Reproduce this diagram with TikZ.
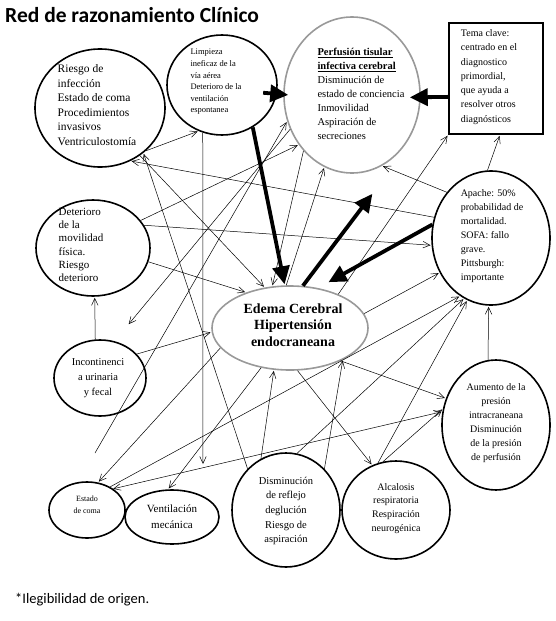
\documentclass[tikz,border=0pt]{standalone}
\usepackage{fontspec}
\setmainfont{Liberation Serif}
\newfontfamily\titlefont{Carlito}
\usetikzlibrary{arrows,arrows.meta,shapes.geometric,positioning}

\tikzset{
  bubble/.style={ellipse,draw,line width=1.6pt,inner sep=0pt},
  graybubble/.style={ellipse,draw=black!40,line width=1.6pt,inner sep=0pt},
  txt/.style={inner sep=0pt,align=left},
  ctxt/.style={inner sep=0pt,align=center},
  bigarrow/.style={-{Triangle[length=18pt,width=17pt]},line width=3.8pt}
}

\begin{document}
\begin{tikzpicture}[x=1pt,y=-1pt,shorten >=1pt,>={Straight Barb[length=7pt,width=6.5pt]},line width=0.5pt]
                    \useasboundingbox (0,0) rectangle (556,621);

                    \node[anchor=base west,inner sep=0pt,font=\titlefont\fontsize{21.5}{24}\selectfont\bfseries] (titulo) at (5,23) {Red de razonamiento Clínico};
                    \node[anchor=base west,inner sep=0pt,font=\titlefont\fontsize{14.5}{16}\selectfont] (nota) at (15,603) {*Ilegibilidad de origen.};

                    % bubbles
                    \node[bubble] (riesgo) [minimum width=130pt,minimum height=118pt] at (100,108) {};
                    \node[bubble] (limpieza) [minimum width=110pt,minimum height=100pt] at (222,85) {};
                    \node[graybubble] (perfusion) [minimum width=136pt,minimum height=156pt] at (352,95) {};
                    \node[draw,line width=1.8pt,inner sep=0pt] (tema) [minimum width=94pt,minimum height=111pt] at (496,78.5) {};
                    \node[bubble] (apache) [minimum width=118pt,minimum height=134pt] at (491,238) {};
                    \node[graybubble] (edema) [minimum width=156pt,minimum height=84pt] at (290,328) {};
                    \node[bubble] (deterioro) [minimum width=114pt,minimum height=96pt] at (93,248) {};
                    \node[bubble] (incont) [minimum width=92pt,minimum height=76pt] at (100,378) {};
                    \node[bubble] (coma) [minimum width=76pt,minimum height=56pt] at (87,510) {};
                    \node[bubble] (venti) [minimum width=94pt,minimum height=54pt] at (172,517) {};
                    \node[bubble] (dismi) [minimum width=108pt,minimum height=114pt] at (286,510) {};
                    \node[bubble] (alcal) [minimum width=108pt,minimum height=98pt] at (396,510) {};
                    \node[bubble] (aumento) [minimum width=108pt,minimum height=130pt] at (496,425) {};

                    % texts
                    \node[txt,font=\fontsize{11.5}{14.6}\selectfont] (riesgoT) at (97,105) {Riesgo de\\infección\\Estado de coma\\Procedimientos\\invasivos\\Ventriculostomía};
                    \node[txt,font=\fontsize{8.5}{11.6}\selectfont] (limpiezaT) at (216,82) {Limpieza\\ineficaz de la\\vía aérea\\Deterioro de la\\ventilación\\espontanea};
                    \node[txt,font=\fontsize{10.5}{14}\selectfont] (perfusionT) at (361,94) {\textbf{\underline{Perfusión tisular}}\\\textbf{\underline{infectiva cerebral}}\\Disminución de\\estado de conciencia\\Inmovilidad\\Aspiración de\\secreciones};
                    \node[txt,font=\fontsize{10}{14.3}\selectfont] (temaT) at (489,77) {Tema clave:\\centrado en el\\diagnostico\\primordial,\\que ayuda a\\resolver otros\\diagnósticos};
                    \node[txt,font=\fontsize{10}{14}\selectfont] (apacheT) at (492,236) {Apache: 50\%\\probabilidad de\\mortalidad.\\SOFA: fallo\\grave.\\Pittsburgh:\\importante};
                    \node[ctxt,font=\fontsize{14}{16.5}\selectfont\bfseries] (edemaT) at (293,325) {Edema Cerebral\\Hipertensión\\endocraneana};
                    \node[txt,font=\fontsize{11}{13.2}\selectfont] (deterioroT) at (81,245) {Deterioro\\de la\\movilidad\\física.\\Riesgo\\deterioro};
                    \node[ctxt,font=\fontsize{10.5}{15}\selectfont] (incontT) at (98,378) {Incontinenci\\a urinaria\\y fecal};
                    \node[ctxt,font=\fontsize{8}{12}\selectfont] (comaT) at (87,505) {Estado\\de coma};
                    \node[ctxt,font=\fontsize{11}{16}\selectfont] (ventiT) at (172,517) {Ventilación\\mecánica};
                    \node[ctxt,font=\fontsize{10.5}{14.6}\selectfont] (dismiT) at (286,511) {Disminución\\de reflejo\\deglución\\Riesgo de\\aspiración};
                    \node[ctxt,font=\fontsize{10}{13.8}\selectfont] (alcalT) at (396,508.5) {Alcalosis\\respiratoria\\Respiración\\neurogénica};
                    \node[ctxt,font=\fontsize{10}{14}\selectfont] (aumentoT) at (496,423) {Aumento de la\\presión\\intracraneana\\Disminución\\de la presión\\de perfusión};

                    % free ends
                    \coordinate (comaTail) at (95,453);
                    \coordinate (incontTip) at (128,325);
                    \coordinate (limpiezaTip) at (203,465);
                    \coordinate (edemaTip) at (373,193);

                    % thin links
                    \draw [->] (riesgo.-43) -- (limpieza.243);
                    \draw [->] (apache.160) -- (riesgo.-60);
                    \draw [->] (deterioro.24) -- (apache.187);
                    \draw [->] (deterioro.30) -- (perfusion.223);
                    \draw [->] (deterioro.-14) -- (edema.141);
                    \draw [->] (comaTail) -- (perfusion.202);
                    \draw [->] (perfusion.229) -- (edema.113);
                    \draw [->] (riesgo.-50) -- (edema.122);
                    \draw [->] (edema.95) -- (perfusion.249);
                    \draw [->] (perfusion.209) -- (incontTip);
                    \draw [->] (incont.33) -- (edema.183);
                    \draw [->] (incont.97) -- (deterioro.-88);
                    \draw [->] (limpieza.248) -- (limpiezaTip);
                    \draw [->] (edema.196) -- (coma.68);
                    \draw [->] (edema.234) -- (venti.98);
                    \draw [->] (dismi.116) -- (edema.249);
                    \draw [->] (dismi.133) -- (riesgo.-46);
                    \draw [->] (dismi.79) -- (apache.246);
                    \draw [->] (dismi.47) -- (edema.-31);
                    \draw [->] (edema.-33) -- (aumento.152);
                    \draw [->] (edema.-80) -- (alcal.118);
                    \draw [->] (alcal.111) -- (apache.249);
                    \draw [->] (alcal.105) -- (aumento.163);
                    \draw [<->] (coma.39) -- (aumento.166);
                    \draw [->] (coma.45) -- (apache.242);
                    \draw [->] (edema.11) -- (apache.214);
                    \draw [->] (edema.35) -- (tema.south west);
                    \draw [->] (apache.93) -- (tema.-86);
                    \draw [->] (apache.134) -- (perfusion.-67);
                    \draw [->] (aumento.97) -- (apache.-92);

                    % thick links
                    \draw [bigarrow] ([xshift=-14pt]limpieza.-8) -- ([xshift=6pt]perfusion.west);
                    \draw [bigarrow] (tema.201.5) -- ([xshift=-12pt]perfusion.-2);
                    \draw [bigarrow] (limpieza.-54) -- (edema.97);
                    \draw [bigarrow] (edema.73) -- (edemaTip);
                    \draw [bigarrow,shorten >=12pt] (apache.167) -- (edema.55);

                \end{tikzpicture}
\end{document}
